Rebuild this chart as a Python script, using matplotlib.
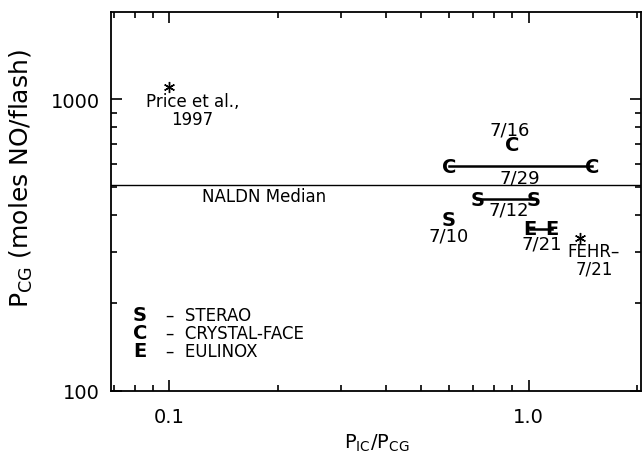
import numpy as np
import matplotlib
matplotlib.use('Agg')
import matplotlib.pyplot as plt
from matplotlib.ticker import FixedLocator, FixedFormatter, NullFormatter

# single estimates (x = P_IC/P_CG, y = P_CG)
price_x, price_y = 0.1, 1100
fehr_x, fehr_y = 1.39, 333

# ranges: (x_low, x_high, y, letter, date)
ranges = [
    (0.60, 1.50, 590, 'C', '7/29'),
    (0.72, 1.03, 454, 'S', '7/12'),
    (1.01, 1.16, 360, 'E', '7/21'),
]
# single-value storms: (x, y, letter, date)
singles = [
    (0.90, 700, 'C', '7/16'),
    (0.60, 388, 'S', '7/10'),
]
# where the dates sit
range_label_pos = [(0.946, 539), (0.88, 417), (1.09, 321)]
single_label_pos = [(0.887, 789), (0.60, 340)]

naldn_median = 507

legend_rows = [('S', 'STERAO'), ('C', 'CRYSTAL-FACE'), ('E', 'EULINOX')]

fig = plt.figure(figsize=(6.42, 4.56), dpi=100)
ax = fig.add_axes([110.7/642, 64.3/456, 530.3/642, 379.2/456])
ax.set_xscale('log')
ax.set_yscale('log')
ax.set_xlim(0.0686, 2.055)
ax.set_ylim(100, 2000)

for s in ax.spines.values():
    s.set_linewidth(1.3)

ax.xaxis.set_major_locator(FixedLocator([0.1, 1.0]))
ax.xaxis.set_major_formatter(FixedFormatter(['0.1', '1.0']))
ax.xaxis.set_minor_locator(FixedLocator([0.07, 0.08, 0.09, 0.2, 0.3, 0.4, 0.5,
                                         0.6, 0.7, 0.8, 0.9, 2.0]))
ax.xaxis.set_minor_formatter(NullFormatter())
ax.yaxis.set_major_locator(FixedLocator([100, 1000]))
ax.yaxis.set_major_formatter(FixedFormatter(['100', '1000']))
ax.yaxis.set_minor_locator(FixedLocator([200, 300, 400, 500, 600, 700, 800, 900]))
ax.yaxis.set_minor_formatter(NullFormatter())
ax.tick_params(which='both', direction='in', top=True, right=True,
               labelsize=14, width=1.2, pad=8)
ax.tick_params(axis='x', which='both', pad=12)
ax.tick_params(which='major', length=8)
ax.tick_params(which='minor', length=4)

ax.set_xlabel(r'P$_{\rm IC}$/P$_{\rm CG}$', fontsize=14)
ax.xaxis.set_label_coords(0.502, -0.108)
ax.set_ylabel(r'P$_{\rm CG}$ (moles NO/flash)', fontsize=18)
ax.yaxis.set_label_coords(-0.142, 0.563)

# NALDN median line
ax.axhline(naldn_median, color='black', lw=1.0)
ax.text(0.183, 465, 'NALDN Median', fontsize=12, ha='center', va='center')

# reference estimates
ax.plot([price_x], [price_y], marker=(6, 2, 0), ms=8, color='black', mew=1.0)
ax.text(0.116, 915, 'Price et al.,\n1997', fontsize=12, ha='center', va='center',
        linespacing=1.0)
ax.plot([fehr_x], [fehr_y], marker=(6, 2, 0), ms=8, color='black', mew=1.0)
ax.text(1.52, 281, 'FEHR\u2013\n7/21', fontsize=12, ha='center', va='center',
        linespacing=1.0)

for (x1, x2, y, letter, date), (lx, ly) in zip(ranges, range_label_pos):
    ax.plot([x1, x2], [y, y], color='black', lw=1.8)
    for x in (x1, x2):
        ax.text(x, y, letter, fontsize=14, fontweight='bold', ha='center', va='center')
    ax.text(lx, ly, date, fontsize=13, ha='center', va='center')

for (x, y, letter, date), (lx, ly) in zip(singles, single_label_pos):
    ax.text(x, y, letter, fontsize=14, fontweight='bold', ha='center', va='center')
    ax.text(lx, ly, date, fontsize=13, ha='center', va='center')

# key
for i, (letter, name) in enumerate(legend_rows):
    yy = 0.200 - i*0.0475
    ax.text(0.0553, yy, letter, transform=ax.transAxes, fontsize=14,
            fontweight='bold', ha='center', va='center')
    ax.text(0.104, yy, '\u2013  ' + name, transform=ax.transAxes, fontsize=12,
            ha='left', va='center')

fig.savefig('out.png', dpi=100)
